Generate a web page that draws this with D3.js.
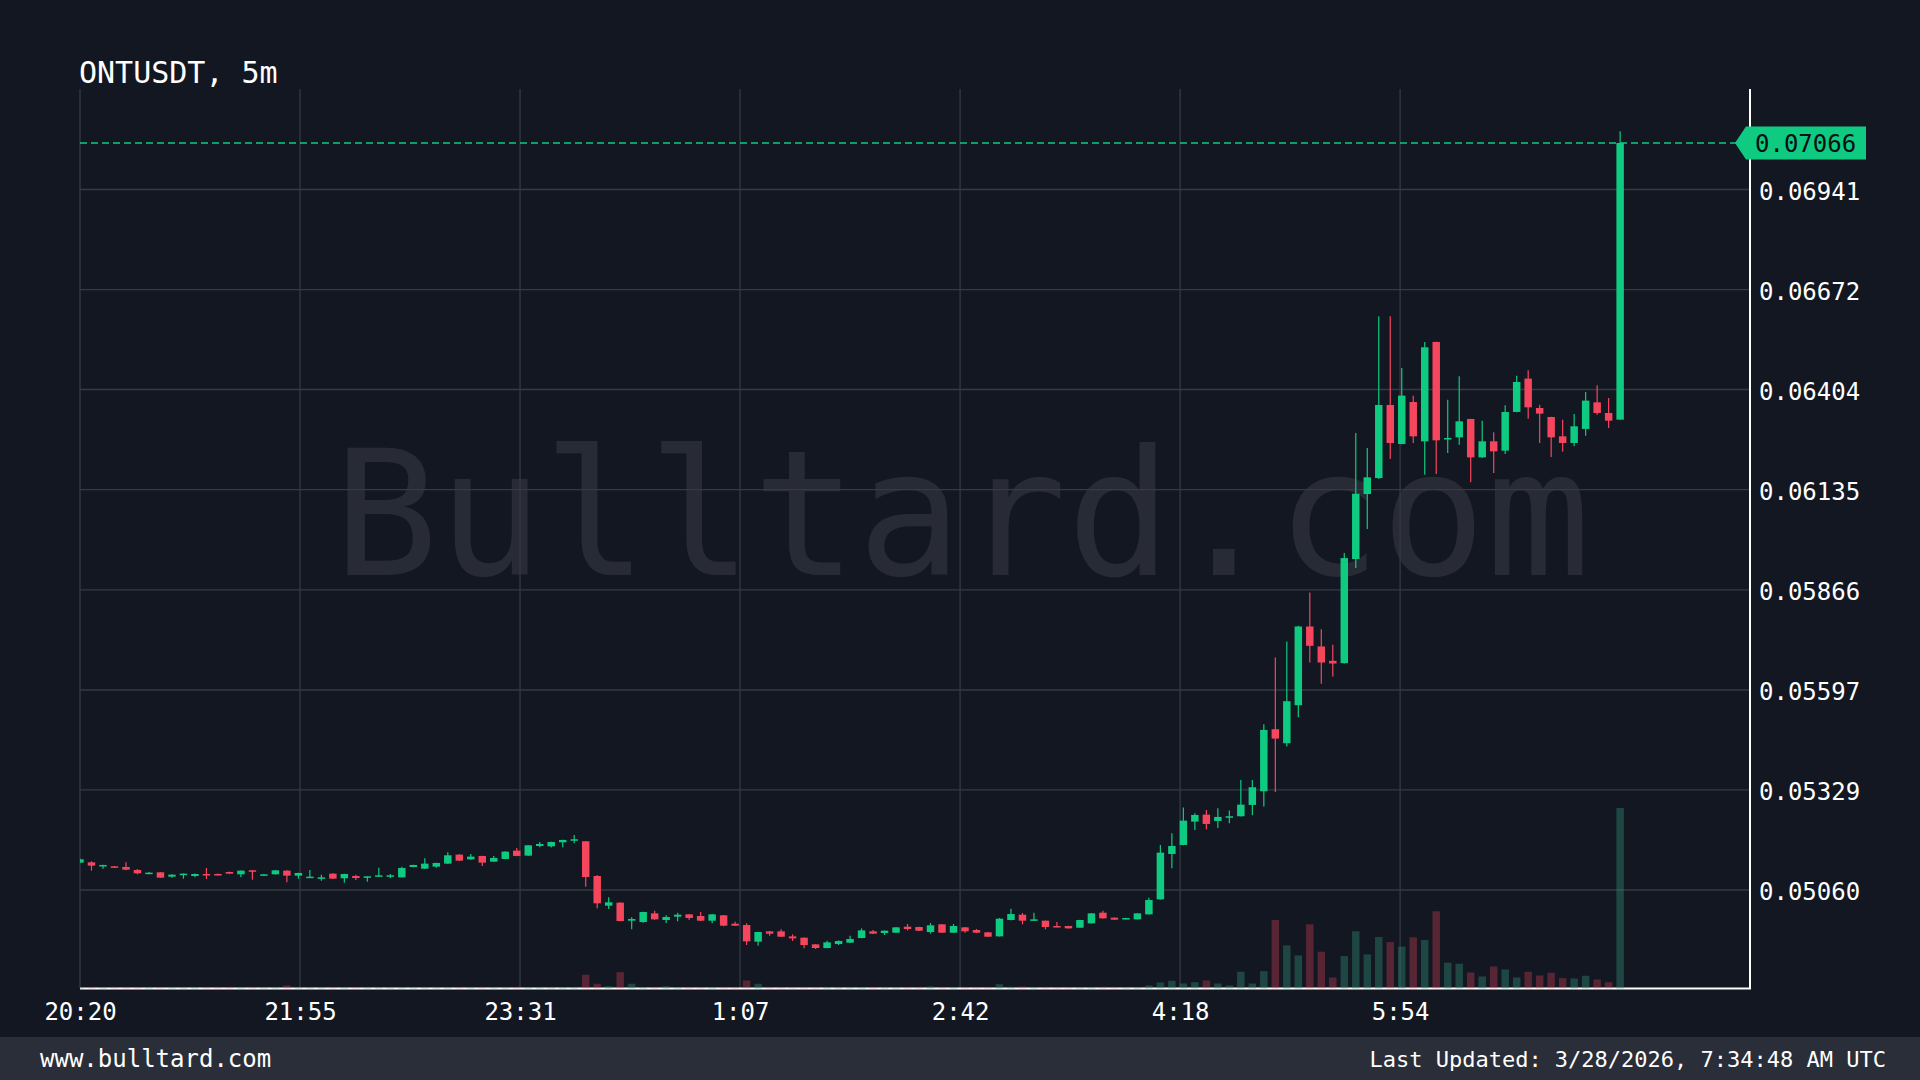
<!DOCTYPE html>
<html><head><meta charset="utf-8">
<script src="https://cdn.jsdelivr.net/npm/d3@7"></script>
<style>html,body{margin:0;padding:0;background:#131722;overflow:hidden}svg{display:block}</style>
</head><body>
<svg id="chart" width="1920" height="1080"></svg>
<script>
// ---------------- data ----------------
const title = "ONTUSDT, 5m";
const startTime = "2026-03-27T20:20:00Z";   // first candle (UTC), 5 minute candles
const candleMinutes = 5;
const opens = [0.051335,0.051343,0.051245,0.051236,0.051218,0.051138,0.051040,0.051075,0.050958,0.051003,
0.050976,0.051030,0.051030,0.051084,0.051021,0.051129,0.050985,0.051021,0.051120,0.050985,
0.050932,0.050914,0.051039,0.050914,0.050976,0.050932,0.050967,0.050958,0.050940,0.051218,
0.051173,0.051227,0.051308,0.051550,0.051424,0.051514,0.051361,0.051433,0.051657,0.051523,
0.051782,0.051773,0.051881,0.051926,0.051908,0.050976,0.050179,0.050260,0.049776,0.049740,
0.049973,0.049794,0.049884,0.049946,0.049901,0.049776,0.049920,0.049695,0.049660,0.049212,
0.049490,0.049490,0.049355,0.049319,0.049140,0.049042,0.049149,0.049185,0.049310,0.049490,
0.049445,0.049454,0.049615,0.049606,0.049472,0.049678,0.049454,0.049597,0.049525,0.049463,
0.049355,0.049794,0.049937,0.049785,0.049776,0.049633,0.049633,0.049588,0.049704,0.049991,
0.049857,0.049812,0.049812,0.049946,0.050349,0.051567,0.051809,0.052436,0.052624,0.052454,
0.052544,0.052580,0.052884,0.053251,0.054917,0.054541,0.055562,0.057676,0.057139,0.056754,
0.056691,0.059486,0.061232,0.061662,0.063624,0.062576,0.063704,0.062648,0.065317,0.062701,
0.062755,0.063248,0.062217,0.062648,0.062397,0.063436,0.064332,0.063543,0.063301,0.062782,
0.062603,0.062980,0.063695,0.063409,0.063230];
const highs = [0.051440,0.051370,0.051280,0.051245,0.051343,0.051164,0.051080,0.051080,0.051020,0.051045,
0.051040,0.051191,0.051040,0.051093,0.051125,0.051135,0.051030,0.051135,0.051130,0.051066,
0.051138,0.051012,0.051048,0.051035,0.051012,0.050972,0.051200,0.051030,0.051227,0.051280,
0.051450,0.051335,0.051612,0.051559,0.051567,0.051520,0.051514,0.051638,0.051729,0.051808,
0.051890,0.051895,0.051950,0.052078,0.051915,0.051003,0.050403,0.050269,0.049866,0.050018,
0.050045,0.049920,0.049991,0.049955,0.050009,0.049955,0.049928,0.049749,0.049704,0.049480,
0.049499,0.049543,0.049409,0.049325,0.049145,0.049239,0.049248,0.049373,0.049570,0.049525,
0.049515,0.049605,0.049687,0.049612,0.049713,0.049684,0.049687,0.049605,0.049552,0.049470,
0.049848,0.050098,0.049982,0.049991,0.049780,0.049740,0.049638,0.049800,0.049980,0.050045,
0.049862,0.049852,0.049978,0.050394,0.051809,0.052123,0.052812,0.052660,0.052750,0.052794,
0.052732,0.053556,0.053556,0.055052,0.056843,0.057273,0.057694,0.058590,0.057604,0.057183,
0.059647,0.062871,0.062468,0.066006,0.066006,0.064618,0.063875,0.065317,0.065325,0.063767,
0.064394,0.063255,0.063203,0.062889,0.063615,0.064412,0.064555,0.063633,0.063310,0.063230,
0.063382,0.063973,0.064152,0.063812,0.070977];
const lows = [0.051320,0.051120,0.051173,0.051200,0.051130,0.051021,0.051021,0.050925,0.050932,0.050905,
0.050940,0.050896,0.050994,0.051030,0.050940,0.050878,0.050980,0.051015,0.050806,0.050905,
0.050925,0.050851,0.050896,0.050797,0.050869,0.050824,0.050960,0.050914,0.050935,0.051210,
0.051165,0.051200,0.051300,0.051380,0.051415,0.051245,0.051355,0.051425,0.051505,0.051515,
0.051747,0.051738,0.051747,0.051854,0.050690,0.050107,0.050089,0.049758,0.049543,0.049722,
0.049803,0.049713,0.049758,0.049794,0.049767,0.049704,0.049624,0.049635,0.049122,0.049104,
0.049373,0.049337,0.049230,0.049033,0.049015,0.049035,0.049122,0.049180,0.049305,0.049420,
0.049391,0.049450,0.049516,0.049500,0.049427,0.049450,0.049450,0.049454,0.049450,0.049340,
0.049350,0.049790,0.049678,0.049780,0.049543,0.049600,0.049565,0.049585,0.049700,0.049835,
0.049798,0.049808,0.049808,0.049940,0.050340,0.051182,0.051800,0.052212,0.052230,0.052266,
0.052391,0.052575,0.052607,0.052840,0.053233,0.054452,0.055240,0.056709,0.056135,0.056332,
0.056685,0.059244,0.060292,0.061635,0.062173,0.062570,0.062603,0.061752,0.061770,0.062334,
0.062558,0.061546,0.062210,0.061797,0.062307,0.063430,0.063257,0.062603,0.062226,0.062370,
0.062513,0.062800,0.063364,0.063006,0.063225];
const closes = [0.051424,0.051254,0.051272,0.051210,0.051146,0.051048,0.051066,0.050932,0.051012,0.051039,
0.051030,0.050994,0.051003,0.051039,0.051120,0.051093,0.051021,0.051129,0.050985,0.051057,
0.050958,0.050940,0.050905,0.051030,0.050922,0.050967,0.050994,0.050994,0.051191,0.051272,
0.051308,0.051326,0.051532,0.051388,0.051496,0.051335,0.051460,0.051630,0.051514,0.051800,
0.051836,0.051890,0.051944,0.051962,0.050949,0.050242,0.050269,0.049767,0.049821,0.050009,
0.049812,0.049875,0.049937,0.049848,0.049776,0.049946,0.049642,0.049642,0.049221,0.049472,
0.049427,0.049346,0.049301,0.049122,0.049042,0.049194,0.049230,0.049284,0.049516,0.049427,
0.049507,0.049597,0.049552,0.049507,0.049651,0.049454,0.049633,0.049490,0.049454,0.049346,
0.049830,0.049955,0.049776,0.049812,0.049606,0.049606,0.049570,0.049794,0.049973,0.049839,
0.049803,0.049848,0.049973,0.050331,0.051603,0.051782,0.052463,0.052615,0.052374,0.052562,
0.052580,0.052893,0.053359,0.054899,0.054666,0.055670,0.057676,0.057157,0.056709,0.056682,
0.059513,0.061241,0.061680,0.063624,0.062603,0.063875,0.062782,0.065173,0.062675,0.062737,
0.063185,0.062217,0.062648,0.062379,0.063436,0.064242,0.063561,0.063391,0.062755,0.062603,
0.063051,0.063741,0.063409,0.063203,0.070660];
const volumes = [7,13,7,10,10,8,6,10,7,7,
7,15,8,10,8,10,6,7,30,8,
10,8,10,10,8,7,8,7,10,7,
10,8,10,10,7,10,7,8,10,10,
7,8,8,8,137,47,23,163,47,12,
10,23,10,10,10,10,10,10,80,47,
10,10,10,10,10,10,10,10,10,10,
10,10,10,10,20,10,10,10,10,10,
43,17,20,10,10,10,10,10,10,17,
10,8,8,30,60,77,50,63,80,50,
30,167,50,173,683,430,330,640,367,110,
323,570,340,513,463,417,510,483,770,257,
247,160,120,220,190,110,167,130,157,103,
100,127,90,63,1800];
const yTickValues = [0.05060,0.05329,0.05597,0.05866,0.06135,0.06404,0.06672,0.06941];
const xTickLabels = ["20:20","21:55","23:31","1:07","2:42","4:18","5:54"];
const lastPriceLabel = "0.07066";
const watermark = "Bulltard.com";
const footerLeft = "www.bulltard.com";
const footerRight = "Last Updated: 3/28/2026, 7:34:48 AM UTC";

// ---------------- layout ----------------
const W = 1920, H = 1080;
const L = 80, R = 1750, T = 89, B = 988;
const FONT = "'DejaVu Sans Mono', monospace";
const UP = "#0ecb81", DOWN = "#f6465d";
const BG = "#131722", GRID = "#363a45";

const t0 = new Date(startTime);
const candles = opens.map((o, i) => ({
  t: new Date(t0.getTime() + i * candleMinutes * 60000),
  o, h: highs[i], l: lows[i], c: closes[i], v: volumes[i]
}));
const tLast = candles[candles.length - 1].t;
const rightPadMin = 56.5;
const x = d3.scaleTime()
  .domain([t0, new Date(tLast.getTime() + rightPadMin * 60000)])
  .range([L, R]);
const y = d3.scaleLinear().domain([0.05060, 0.06941]).range([890, 189.5]);
const yv = d3.scaleLinear().domain([0, d3.max(volumes)]).range([B + 0.5, 808]);
const step = x(candles[1].t) - x(candles[0].t);
const bw = step * 0.65;

const tickTimes = xTickLabels.map((_, k) => new Date(t0.getTime() + k * (tLast - t0) / 7));

const svg = d3.select("#chart");
svg.append("rect").attr("width", W).attr("height", H).attr("fill", BG);

svg.append("defs").append("clipPath").attr("id", "plot")
  .append("rect").attr("x", L).attr("y", T).attr("width", R - L).attr("height", B - T + 2);

// watermark
svg.append("text").attr("x", 962).attr("y", 575).attr("text-anchor", "middle")
  .attr("font-family", FONT).attr("font-size", 174)
  .attr("fill", "rgba(255,255,255,0.09)").text(watermark);

// grid
const grid = svg.append("g");
grid.selectAll("line.h").data(yTickValues).join("line")
  .attr("x1", L).attr("x2", R).attr("y1", d => y(d)).attr("y2", d => y(d))
  .attr("stroke", GRID).attr("stroke-width", 1.3);
grid.selectAll("line.v").data(tickTimes).join("line")
  .attr("y1", T).attr("y2", B).attr("x1", d => x(d)).attr("x2", d => x(d))
  .attr("stroke", GRID).attr("stroke-width", 1.3);

// axis lines
svg.append("line").attr("x1", R).attr("x2", R).attr("y1", T).attr("y2", B + 1)
  .attr("stroke", "#ffffff").attr("stroke-width", 2);
svg.append("line").attr("x1", L).attr("x2", R + 1).attr("y1", B + 0.5).attr("y2", B + 0.5)
  .attr("stroke", "#ffffff").attr("stroke-width", 2);

const plot = svg.append("g").attr("clip-path", "url(#plot)");

// volume
plot.selectAll("rect.vol").data(candles).join("rect")
  .attr("x", d => x(d.t) - bw / 2).attr("width", bw)
  .attr("y", d => yv(d.v)).attr("height", d => yv(0) - yv(d.v))
  .attr("fill", d => d.c >= d.o ? "#2f8f74" : DOWN)
  .attr("fill-opacity", d => d.c >= d.o ? 0.4 : 0.3);

// wicks
plot.selectAll("line.wick").data(candles).join("line")
  .attr("x1", d => x(d.t)).attr("x2", d => x(d.t))
  .attr("y1", d => y(d.h)).attr("y2", d => y(d.l))
  .attr("stroke", d => d.c >= d.o ? UP : DOWN).attr("stroke-width", 1.2);

// bodies
plot.selectAll("rect.body").data(candles).join("rect")
  .attr("x", d => x(d.t) - bw / 2).attr("width", bw)
  .attr("y", d => y(Math.max(d.o, d.c)))
  .attr("height", d => Math.max(1.5, Math.abs(y(d.o) - y(d.c))))
  .attr("fill", d => d.c >= d.o ? UP : DOWN);

// last price line + label
const lastClose = candles[candles.length - 1].c;
const ly = y(lastClose);
svg.append("line").attr("x1", L).attr("x2", 1736).attr("y1", ly).attr("y2", ly)
  .attr("stroke", UP).attr("stroke-width", 1.6).attr("stroke-dasharray", "7,4");
svg.append("path")
  .attr("d", `M1735,${ly} L1746,${ly - 16.5} L1866,${ly - 16.5} L1866,${ly + 16.5} L1746,${ly + 16.5} Z`)
  .attr("fill", UP);
svg.append("text").attr("x", 1755).attr("y", ly).attr("dy", "0.37em")
  .attr("font-family", FONT).attr("font-size", 24).attr("fill", "#0b0e14")
  .text(lastPriceLabel);

// y axis labels
const yAxis = svg.append("g").attr("transform", `translate(${R},0)`)
  .call(d3.axisRight(y).tickValues(yTickValues).tickSize(0).tickPadding(9)
    .tickFormat(d3.format(".5f")));
yAxis.select(".domain").remove();
yAxis.selectAll("text").attr("dy", "0.4em")
  .attr("font-family", FONT).attr("font-size", 24).attr("fill", "#ffffff");

// x axis labels
const xAxis = svg.append("g").attr("transform", `translate(0,${B})`)
  .call(d3.axisBottom(x).tickValues(tickTimes).tickSize(0).tickPadding(15)
    .tickFormat((d, i) => xTickLabels[i]));
xAxis.select(".domain").remove();
xAxis.selectAll("text").attr("font-family", FONT).attr("font-size", 24).attr("fill", "#ffffff");

// title
svg.append("text").attr("x", 79).attr("y", 83)
  .attr("font-family", FONT).attr("font-size", 30).attr("fill", "#ffffff").text(title);

// footer
svg.append("rect").attr("x", 0).attr("y", 1037).attr("width", W).attr("height", H - 1037)
  .attr("fill", "#2a2e39");
svg.append("text").attr("x", 40).attr("y", 1067)
  .attr("font-family", FONT).attr("font-size", 24).attr("fill", "#ffffff").text(footerLeft);
svg.append("text").attr("x", 1886).attr("y", 1067).attr("text-anchor", "end")
  .attr("font-family", FONT).attr("font-size", 22).attr("fill", "#ffffff").text(footerRight);
</script>
</body></html>
